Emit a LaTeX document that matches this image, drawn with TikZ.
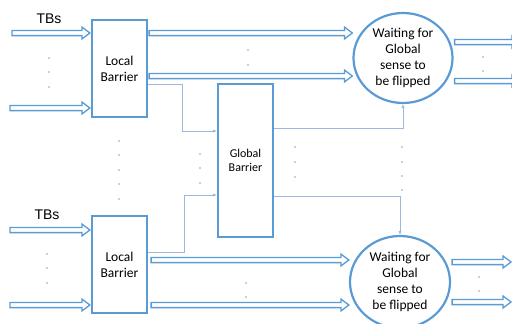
\documentclass[tikz,border=0pt]{standalone}
\usepackage{fontspec}
\setmainfont{Carlito}
\newfontfamily\tbfont{Liberation Sans}
\usetikzlibrary{calc,shapes.geometric,arrows.meta}
\definecolor{barblue}{HTML}{5B9BD5}
\definecolor{linkblue}{HTML}{9DB8E0}

\begin{document}
\begin{tikzpicture}[x=1pt,y=-1pt,
    bar/.style={draw=barblue, line width=2.2pt, minimum width=55pt, inner sep=0pt, align=center},
    wait/.style={draw=barblue, ellipse, line width=2.2pt, inner sep=0pt, align=center,
      font=\fontsize{13.5}{16}\selectfont},
    blk/.style={draw=barblue, line width=1.3pt, line join=miter,
      to path={let \p1=(\tikztostart), \p2=(\tikztotarget) in
        (\x1,{\y1+2.6pt}) -- ({\x2-8pt},{\y1+2.6pt}) -- ({\x2-8pt},{\y1+6pt}) -- (\x2,\y1)
        -- ({\x2-8pt},{\y1-6pt}) -- ({\x2-8pt},{\y1-2.6pt}) -- (\x1,{\y1-2.6pt}) -- cycle}},
    link/.style={draw=linkblue, line width=0.8pt, -{Latex[length=4pt,width=3.5pt]}},
    dot/.style={fill=black!80, circle, inner sep=0pt, minimum size=1.3pt}]
      \useasboundingbox (0,0) rectangle (512,324);

      % barriers
      \node (lb1) at (119.5,68.5) [bar, minimum height=97pt, font=\fontsize{13.5}{16}\selectfont] {Local\\Barrier};
      \node (lb2) at (119.5,264.5) [bar, minimum height=97pt, font=\fontsize{13.5}{16}\selectfont] {Local\\Barrier};
      \node (gb) at (245.5,160.5) [bar, minimum height=153pt, font=\fontsize{12}{14.5}\selectfont] {Global\\Barrier};
      \node (w1) at (403,58) [wait, minimum width=99pt, minimum height=90pt] {Waiting for\\Global\\sense to\\be flipped};
      \node (w2) at (400,282) [wait, minimum width=100pt, minimum height=92pt] {Waiting for\\Global\\sense to\\be flipped};
      \node (tb1) at (49,19) [font=\tbfont\fontsize{14}{16}\selectfont] {TBs};
      \node (tb2) at (47,215) [font=\tbfont\fontsize{14}{16}\selectfont] {TBs};

      % free ends
      \coordinate (i1) at (12,33);
      \coordinate (i2) at (10,108);
      \coordinate (i3) at (10,230);
      \coordinate (i4) at (10,305);
      \coordinate (o1) at (520,42);
      \coordinate (o2) at (520,81);
      \coordinate (o3) at (511,262);
      \coordinate (o4) at (511,302);

      % block arrows
      \draw[blk] (i1) to ([xshift=-1pt]lb1.west |- i1);
      \draw[blk] (i2) to ([xshift=-1pt]lb1.west |- i2);
      \draw[blk] (i3) to ([xshift=-1pt]lb2.west |- i3);
      \draw[blk] (i4) to ([xshift=-1pt]lb2.west |- i4);
      \draw[blk] ([xshift=1pt]lb1.east |- 0,33) to (w1.west |- 0,33);
      \draw[blk] ([xshift=1pt]lb1.east |- 0,76) to (w1.west |- 0,76);
      \draw[blk] ([xshift=3pt]lb2.east |- 0,260) to (w2.west |- 0,260);
      \draw[blk] ([xshift=3pt]lb2.east |- 0,305) to (w2.west |- 0,305);
      \draw[blk] ([xshift=1pt]w1.east |- o1) to (o1);
      \draw[blk] ([xshift=1pt]w1.east |- o2) to (o2);
      \draw[blk] ([xshift=1pt]w2.east |- o3) to (o3);
      \draw[blk] ([xshift=1pt]w2.east |- o4) to (o4);

      % thin links
      \draw[link] (lb1.east |- 0,84) -- (182,84) |- (gb.west |- 0,131);
      \draw[link] (lb2.east |- 0,252) -- (184,252) |- (gb.west |- 0,195);
      \draw[link] (gb.east |- 0,128) -| (w1.south);
      \draw[link] (gb.east |- 0,196) -| (w2.north);

      % dots
      \foreach \y in {58,72,87} \node[dot] at (49,\y) {};
      \foreach \y in {254,268,283} \node[dot] at (47,\y) {};
      \foreach \y in {50,65} \node[dot] at (248,\y) {};
      \foreach \y in {283,297} \node[dot] at (246,\y) {};
      \foreach \y in {141,155,170,184,199} \node[dot] at (119,\y) {};
      \foreach \y in {154,168,183} \node[dot] at (200,\y) {};
      \foreach \y in {147,162,177} \node[dot] at (295,\y) {};
      \foreach \y in {147,162,176,190} \node[dot] at (402,\y) {};
      \foreach \y in {57,71} \node[dot] at (483,\y) {};
      \foreach \y in {277,291} \node[dot] at (479,\y) {};
\end{tikzpicture}
\end{document}
